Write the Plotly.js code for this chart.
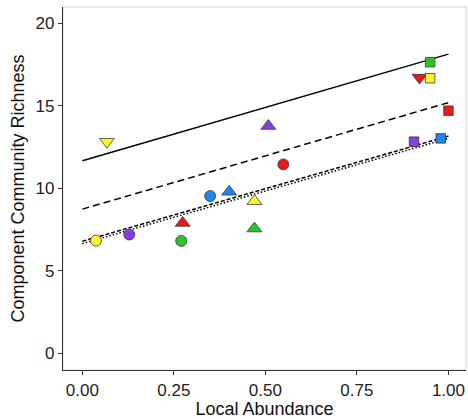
<!DOCTYPE html>
<html>
<head>
<meta charset="utf-8">
<script src="https://cdn.plot.ly/plotly-3.0.1.min.js"></script>
<style>html,body{margin:0;padding:0;background:#fff;}#chart{width:468px;height:419px;}</style>
</head>
<body>
<div id="chart"></div>
<script>
// Points: local abundance (x) and component community richness (y)
const circleX = [0.037, 0.128, 0.270, 0.349, 0.549];
const circleY = [6.83, 7.20, 6.81, 9.53, 11.45];
const circleColors = ['#FFF12A', '#8A3BE3', '#2EC12E', '#1E88E8', '#E8191A'];

const triUpX = [0.274, 0.401, 0.470, 0.470, 0.508];
const triUpY = [7.90, 9.79, 9.22, 7.56, 13.78];
const triUpColors = ['#E8191A', '#1E88E8', '#FFF12A', '#2EC12E', '#8A3BE3'];

const triDownX = [0.067, 0.921];
const triDownY = [12.83, 16.72];
const triDownColors = ['#FFF12A', '#E8191A'];

const squareX = [0.950, 0.950, 1.000, 0.906, 0.979];
const squareY = [17.65, 16.68, 14.71, 12.83, 13.03];
const squareColors = ['#2EC12E', '#FFF12A', '#E8191A', '#8A3BE3', '#1E88E8'];

// Fitted lines (endpoints at x = 0 and x = 1)
const lineX = [0, 1];
const solidY = [11.67, 18.14];
const dashedY = [8.74, 15.20];
const shortDashY = [6.79, 13.17];
const dottedY = [6.65, 13.03];

const xTicks = [0, 0.25, 0.5, 0.75, 1];
const xTickLabels = ['0.00', '0.25', '0.50', '0.75', '1.00'];
const yTicks = [0, 5, 10, 15, 20];

const border = {color: '#3a3a3a', width: 0.8};

function lineTrace(y, dash) {
  return {x: lineX, y: y, mode: 'lines', type: 'scatter', hoverinfo: 'skip',
          line: {color: '#000', width: 1.5, dash: dash}, showlegend: false};
}
function pointTrace(x, y, colors, symbol, size) {
  return {x: x, y: y, mode: 'markers', type: 'scatter', showlegend: false,
          marker: {symbol: symbol, size: size, color: colors, line: border}};
}

const traces = [
  lineTrace(solidY, 'solid'),
  lineTrace(dashedY, '7px,4px'),
  lineTrace(shortDashY, '4px,2px'),
  lineTrace(dottedY, '1.5px,2px'),
  pointTrace(circleX, circleY, circleColors, 'circle', 11),
  pointTrace(triUpX, triUpY, triUpColors, 'triangle-up', 13),
  pointTrace(triDownX, triDownY, triDownColors, 'triangle-down', 13),
  pointTrace(squareX, squareY, squareColors, 'square', 9.5)
];

const tickFont = {family: 'Liberation Sans, Arial, sans-serif', size: 17, color: '#222'};
const titleFont = {family: 'Liberation Sans, Arial, sans-serif', size: 18, color: '#111'};

const layout = {
  width: 468, height: 419,
  margin: {l: 63, r: 2, t: 7, b: 49},
  paper_bgcolor: '#fff', plot_bgcolor: '#fff',
  showlegend: false,
  xaxis: {
    range: [-0.053, 1.048], tickvals: xTicks, ticktext: xTickLabels,
    ticks: 'outside', ticklen: 4, tickcolor: '#333', tickwidth: 1,
    showline: true, linecolor: '#333', linewidth: 1.2,
    showgrid: false, zeroline: false, tickfont: tickFont,
    title: {text: 'Local Abundance', font: titleFont, standoff: 2}
  },
  yaxis: {
    range: [-1.02, 21.0], tickvals: yTicks,
    ticks: 'outside', ticklen: 4, tickcolor: '#333', tickwidth: 1,
    showline: true, linecolor: '#333', linewidth: 1.2,
    showgrid: false, zeroline: false, tickfont: tickFont,
    title: {text: 'Component Community Richness', font: titleFont, standoff: 6}
  },
  shapes: [{type: 'rect', xref: 'paper', yref: 'paper', x0: 0, x1: 1, y0: 0, y1: 1,
            line: {color: '#d4d4d4', width: 1}, layer: 'below'}]
};

Plotly.newPlot('chart', traces, layout, {displayModeBar: false, staticPlot: true});
</script>
</body>
</html>
